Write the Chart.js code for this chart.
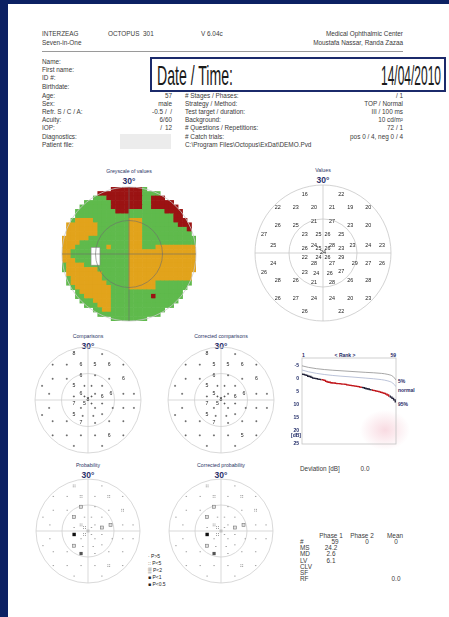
<!DOCTYPE html>
<html><head><meta charset="utf-8">
<script src="https://cdn.jsdelivr.net/npm/chart.js@4/dist/chart.umd.min.js"></script>
<style>
html,body{margin:0;padding:0;}
body{width:449px;height:617px;background:#0c2163;position:relative;overflow:hidden;font-family:"Liberation Sans",Arial,sans-serif;}
#page{position:absolute;left:8px;top:4px;width:441px;height:613px;background:#fff;}
.t{position:absolute;white-space:nowrap;font-size:6.4px;color:#3a3a3a;line-height:1;transform:translateY(-50%);}
.t.r{transform:translate(-100%,-50%);}
.t.c{transform:translate(-50%,-50%);}
.ttl{font-size:5.2px;color:#2b3566;}
.deg{font-size:8.5px;font-weight:bold;color:#28306a;}
canvas{position:absolute;}
#datebox{position:absolute;left:150px;top:57px;width:292px;height:31px;border:2px solid #1b2a6b;background:#fff;}
#smudge{position:absolute;left:360px;top:410px;width:50px;height:40px;background:radial-gradient(closest-side,rgba(236,150,170,0.35),rgba(236,150,170,0));}
</style></head>
<body>
<div id="page"></div>
<div id="smudge"></div>
<div style="position:absolute;left:42px;top:51px;width:361px;height:0;border-top:0.6px solid #9a9a9a"></div>
<div style="position:absolute;left:120px;top:134px;width:51px;height:15px;background:#ececec"></div>
<div id="datebox"></div>
<script>
// ---------- 59 test locations (degrees) ----------
const locX = [-8,8, -20,-12,-4,4,12,20, -4,4, -20,-12,12,20, -26,-8,-2,2,8, -22,-4,4,13,20,26, -8,-2,2,8, 0, -8,-2,2,8, -22,-4,4,14,20,26, -26,-8,-3,3,8, -20,-12,-4,4,12,20, -20,-12,-4,4,12,20, -8,8];
const locY = [26,26, 20,20,20,20,20,20, 14,14, 12,12,12,12, 8,8,8,8,8, 3.5,3.5,3.5,3.5,3.5,3.5, 2,2,2,2, 0, -2,-2,-2,-2, -4.5,-4.5,-4.5,-4.5,-4.5,-4.5, -8.5,-8.5,-9,-9,-8, -12,-12,-13,-13,-12,-12, -20,-20,-20,-20,-20,-20, -26,-26];

// measured sensitivities [dB]
const sensitivity = [16,22, 22,23,20,21,19,20, 21,27, 26,25,23,20, 27,23,25,26,25, 25,24,28,23,24,23, 26,25,26,23, 24, 22,24,26,29, 24,28,27,29,27,26, 26,23,24,26,27, 28,26,21,28,26,28, 26,27,24,24,20,23, 26,22];

// comparisons with age-normal values (0 = within normal, shown as +)
const comparisons = [8,0, 0,0,6,5,6,0, 6,0, 0,0,0,6, 0,5,0,0,0, 0,6,0,6,0,0, 0,0,0,6, 8, 7,5,0,0, 0,0,0,0,0,0, 0,5,0,0,0, 0,0,7,0,0,0, 0,0,0,0,6,0, 0,0];
const correctedComparisons = [8,0, 0,0,5,5,6,0, 6,0, 0,0,0,6, 0,5,0,0,0, 0,5,0,6,0,0, 0,0,0,6, 8, 7,5,0,0, 0,0,0,0,0,0, 0,5,0,0,0, 0,0,7,0,0,0, 0,0,0,0,5,0, 0,0];

// probability classes: 0 P>5, 1 P<5, 2 P<2, 3 P<1, 4 P<0.5
const probability = [1,0, 0,0,1,0,1,0, 2,0, 0,0,0,1, 0,2,0,0,0, 0,1,0,2,0,0, 0,1,0,2, 1, 4,1,0,0, 0,0,0,0,0,0, 0,2,0,0,0, 0,0,3,0,0,0, 0,0,0,0,1,0, 0,0];
const correctedProbability = [1,0, 0,0,1,0,1,0, 2,0, 0,0,0,1, 0,2,0,0,0, 0,1,0,2,0,0, 0,1,0,2, 1, 4,1,0,0, 0,0,0,0,0,0, 0,2,0,0,0, 0,0,3,0,0,0, 0,0,0,0,1,0, 0,0];

// greyscale map on a 2-degree grid (30 x 30 cells, row 0 at the top); runs are [row, firstCol, lastCol]
const greyRed = [[0,11,17],[1,8,17],[2,10,17],[2,20,23],[3,11,17],[3,20,24],[4,11,17],[4,20,25],[5,12,14],[5,23,26],[6,25,27],[7,25,27],[8,26,28],[9,28,28],[24,20,20]];
const greyOrange = [[7,3,6],[7,15,17],[8,1,7],[8,15,17],[9,1,7],[9,15,17],[10,0,7],[10,15,17],[11,0,5],[11,15,17],[12,0,3],[12,15,17],[13,0,2],[13,10,10],[13,15,17],[13,21,29],[14,0,1],[14,15,29],[15,0,1],[15,15,29],[16,0,2],[16,15,29],[17,1,4],[17,15,29],[18,1,7],[18,15,29],[19,1,8],[19,15,29],[20,2,8],[20,15,29],[21,2,9],[21,15,20],[22,3,10],[22,15,20],[23,4,10],[24,5,10],[25,7,10],[26,8,10],[27,9,10]];
const blindSpot = {x0:-17, x1:-13, y0:-5, y1:3};

// cumulative defect curve
const rankRefX = [1,5,10,20,30,40,50,54,57,59];
const rank5 = [-5.0,-4.4,-3.9,-3.3,-2.9,-2.5,-2.1,-1.7,-1.0,0.4];
const rankNormal = [-3.4,-2.7,-2.1,-1.3,-0.8,-0.3,0.3,0.8,1.6,3.0];
const patientDefect = [-1.8,-1.7,-1.5,-1.3,-1.0,-0.9,-0.6,-0.3,-0.2,-0.1,0.1,0.2,0.3,0.4,0.6,1.0,1.2,1.3,1.5,1.6,1.6,1.7,1.8,1.8,1.9,2.0,2.0,2.1,2.3,2.4,2.5,2.6,2.7,2.8,2.9,3.0,3.2,3.3,3.4,3.6,3.8,3.9,4.1,4.2,4.4,4.5,4.7,4.8,5.0,5.2,5.4,5.6,5.9,6.2,6.6,7.0,7.5,8.1,8.8];
const rankTicks = [-5,0,5,10,15,20,25];

// ---------- text ----------
const texts = [
  [42,34,'INTERZEAG'],[42,43,'Seven-in-One'],[108,34,'OCTOPUS&nbsp; 301'],[201,34,'V 6.04c'],
  [403,34,'Medical Ophthalmic Center','r'],[403,43,'Moustafa Nassar, Randa Zazaa','r'],
  [42,62,'Name:'],[42,70,'First name:'],[42,78,'ID #:'],[42,87,'Birthdate:'],[42,96,'Age:'],[42,104,'Sex:'],
  [42,112,'Refr. S / C / A:'],[42,120,'Acuity:'],[42,128,'IOP:'],[42,137,'Diagnostics:'],[42,145,'Patient file:'],
  [172,96,'57','r'],[172,104,'male','r'],[172,112,'-0.5 / &nbsp;/','r'],[172,120,'6/60','r'],[162,128,'/','r'],[172,128,'12','r'],
  [185,96,'# Stages / Phases:'],[185,104,'Strategy / Method:'],[185,112,'Test target / duration:'],[185,120,'Background:'],
  [185,128,'# Questions / Repetitions:'],[185,137,'# Catch trials:'],[185,145,'C:\\Program Files\\Octopus\\ExDat\\DEMO.Pvd'],
  [403,96,'/ 1','r'],[403,104,'TOP / Normal','r'],[403,112,'III / 100 ms','r'],[403,120,'10 cd/m²','r'],[403,128,'72 / 1','r'],[403,137,'pos 0 / 4, neg 0 / 4','r'],
  [300,469,'Deviation [dB]'],[365,469,'0.0','c'],
  [331,536,'Phase 1','c'],[362,536,'Phase 2','c'],[395,536,'Mean','c'],
  [300,542,'#'],[335,542,'59','c'],[367,542,'0','c'],[396,542,'0','c'],
  [300,548,'MS'],[331,548,'24.2','c'],[300,554,'MD'],[331,554,'2.6','c'],[300,561,'LV'],[331,561,'6.1','c'],
  [300,567,'CLV'],[300,573,'SF'],[300,579,'RF'],[396,579,'0.0','c']
];
const titles = [[129,172,'Greyscale of values'],[323,171,'Values'],[88,337,'Comparisons'],[221,337,'Corrected comparisons'],[88,466,'Probability'],[221,466,'Corrected probability']];
const legendItems = [['·','P>5'],['::','P<5'],['▒','P<2'],['■','P<1'],['■','P<0.5']];

function addText(x,y,html,cls,extra){
  const d=document.createElement('div');
  d.className='t'+(cls?' '+cls:'');
  d.style.left=x+'px'; d.style.top=y+'px';
  d.innerHTML=html;
  if(extra) Object.assign(d.style,extra);
  document.body.appendChild(d);
  return d;
}
texts.forEach(([x,y,s,a])=>addText(x,y,s,a));
titles.forEach(([x,y,s])=>{addText(x,y,s,'c ttl');addText(x,y+9,'30°','c deg');});
legendItems.forEach(([sym,lab],k)=>addText(148,556+k*7,sym+' '+lab,'',{fontSize:'5px',color:'#222'}));
addText(302,355,'1','',{fontSize:'5px',color:'#1f2a66',fontWeight:'bold'});
addText(345,355,'&lt; Rank &gt;','c',{fontSize:'5px',color:'#1f2a66',fontWeight:'bold'});
addText(396,355,'59','r',{fontSize:'5px',color:'#1f2a66',fontWeight:'bold'});
addText(398,381,'5%','',{fontSize:'5px',color:'#1f2a66',fontWeight:'bold'});
addText(398,390,'normal','',{fontSize:'5px',color:'#1f2a66',fontWeight:'bold'});
addText(398,404,'95%','',{fontSize:'5px',color:'#1f2a66',fontWeight:'bold'});

// large date line, condensed to fit its box
function fitText(x,y,w,s,align){
  const d=addText(x,y,s,'',{fontSize:'28px',color:'#1a1a1a',transformOrigin:align==='r'?'right center':'left center'});
  const sx=w/d.getBoundingClientRect().width;
  d.style.transform=(align==='r'?'translate(-100%,-50%) ':'translateY(-50%) ')+'scaleX('+sx+')';
}
fitText(157,76,76,'Date / Time:');
fitText(441,76,60,'14/04/2010','r');

// ---------- helpers ----------
function mkCanvas(left,top,w,h){
  const c=document.createElement('canvas');
  c.width=w;c.height=h;c.style.left=left+'px';c.style.top=top+'px';
  document.body.appendChild(c);return c;
}
const fieldScales={x:{type:'linear',min:-30,max:30,display:false},y:{type:'linear',min:-30,max:30,display:false}};
function guides(opts){
  const hook=opts.onTop?'afterDatasetsDraw':'beforeDatasetsDraw';
  return {id:'guides',[hook](chart){
    const {ctx,scales:{x,y}}=chart;
    const cx=x.getPixelForValue(0),cy=y.getPixelForValue(0);
    const R=x.getPixelForValue(30)-cx,r=x.getPixelForValue(15)-cx;
    ctx.save();
    ctx.strokeStyle=opts.outer;ctx.lineWidth=0.8;
    ctx.beginPath();ctx.arc(cx,cy,R,0,Math.PI*2);ctx.stroke();
    ctx.strokeStyle=opts.inner;ctx.lineWidth=opts.innerWidth||0.8;
    ctx.beginPath();ctx.arc(cx,cy,r,0,Math.PI*2);ctx.stroke();
    ctx.beginPath();ctx.moveTo(cx-R,cy);ctx.lineTo(cx+R,cy);ctx.moveTo(cx,cy-R);ctx.lineTo(cx,cy+R);ctx.stroke();
    ctx.restore();
  }};
}
const marksPlugin={id:'marks',afterDatasetsDraw(chart){
  const ctx=chart.ctx;
  chart.data.datasets.forEach((ds,di)=>{
    if(!ds.marks)return;
    const meta=chart.getDatasetMeta(di);
    ctx.save();
    meta.data.forEach((el,k)=>ds.drawMark(ctx,el.x,el.y,ds.marks[k]));
    ctx.restore();
  });
}};
function fieldChart(cx,cy,R,dataset,plugins){
  const c=mkCanvas(cx-R-1,cy-R-1,2*R+2,2*R+2);
  return new Chart(c,{type:'scatter',data:{datasets:[dataset]},
    options:{responsive:false,animation:false,events:[],layout:{padding:1},scales:fieldScales,
      plugins:{legend:{display:false},tooltip:{enabled:false}}},
    plugins:plugins});
}
const locPoints=locX.map((x,i)=>({x,y:locY[i]}));

// ---------- greyscale ----------
const toneColor={g:'#5fba4c',o:'#e2a31b',r:'#9b1313'};
const grid=[];for(let j=0;j<30;j++)grid.push(new Array(30).fill('g'));
greyOrange.forEach(([j,a,b])=>{for(let i=a;i<=b;i++)grid[j][i]='o';});
greyRed.forEach(([j,a,b])=>{for(let i=a;i<=b;i++)grid[j][i]='r';});
const cells=[],cellColors=[];
for(let j=0;j<30;j++)for(let i=0;i<30;i++){
  const x=-29+2*i,y=29-2*j;
  if(Math.hypot(x,y)<=30){cells.push({x,y});cellColors.push(toneColor[grid[j][i]]);}
}
const blindPlugin={id:'blind',afterDatasetsDraw(chart){
  const {ctx,scales:{x,y}}=chart;
  const l=x.getPixelForValue(blindSpot.x0),r=x.getPixelForValue(blindSpot.x1),t=y.getPixelForValue(blindSpot.y1),b=y.getPixelForValue(blindSpot.y0);
  ctx.save();ctx.fillStyle='#fff';ctx.fillRect(l,t,r-l,b-t);ctx.strokeStyle='#888';ctx.lineWidth=0.6;ctx.strokeRect(l,t,r-l,b-t);ctx.restore();
}};
fieldChart(129,254,67,{data:cells,pointStyle:'rect',pointBorderWidth:0,pointBackgroundColor:cellColors,
  pointRadius:(ctx)=>{const s=ctx.chart.scales.x;const cell=Math.abs(s.getPixelForValue(2)-s.getPixelForValue(0));return (cell/2+0.3)/Math.SQRT1_2;}},
  [blindPlugin,guides({onTop:true,outer:'#c9c9c9',inner:'#6d6d6d',innerWidth:0.6})]);

// ---------- values ----------
fieldChart(323,253,68,{data:locPoints,pointRadius:0,marks:sensitivity,
  drawMark(ctx,x,y,v){ctx.font='5.4px "Liberation Sans",Arial';ctx.fillStyle='#222';ctx.textAlign='center';ctx.textBaseline='middle';ctx.fillText(String(v),x,y);}},
  [guides({outer:'#c8c8c8',inner:'#c8c8c8'}),marksPlugin]);

// ---------- comparisons ----------
function drawComparison(ctx,x,y,v){
  if(v===0){ctx.strokeStyle='#333';ctx.lineWidth=0.6;ctx.beginPath();ctx.moveTo(x-1,y);ctx.lineTo(x+1,y);ctx.moveTo(x,y-1);ctx.lineTo(x,y+1);ctx.stroke();}
  else{ctx.font='5.2px "Liberation Sans",Arial';ctx.fillStyle='#222';ctx.textAlign='center';ctx.textBaseline='middle';ctx.fillText(String(v),x,y);}
}
fieldChart(88,400,53,{data:locPoints,pointRadius:0,marks:comparisons,drawMark:drawComparison},[guides({outer:'#cfcfcf',inner:'#cfcfcf'}),marksPlugin]);
fieldChart(221,400,53,{data:locPoints,pointRadius:0,marks:correctedComparisons,drawMark:drawComparison},[guides({outer:'#cfcfcf',inner:'#cfcfcf'}),marksPlugin]);

// ---------- probability ----------
function drawProb(ctx,x,y,v){
  if(v===0){ctx.fillStyle='#8a8a8a';ctx.fillRect(x-0.7,y-0.4,1.4,0.8);}
  else if(v===1){ctx.fillStyle='#666';[[-0.9,-0.9],[0.9,-0.9],[-0.9,0.9],[0.9,0.9]].forEach(([a,b])=>ctx.fillRect(x+a-0.4,y+b-0.4,0.8,0.8));}
  else if(v===2){ctx.fillStyle='#e0e0e0';ctx.fillRect(x-1.5,y-1.5,3,3);ctx.strokeStyle='#777';ctx.lineWidth=0.6;ctx.strokeRect(x-1.5,y-1.5,3,3);}
  else if(v===3){ctx.fillStyle='#555';ctx.fillRect(x-1.6,y-1.6,3.2,3.2);}
  else{ctx.fillStyle='#111';ctx.fillRect(x-1.7,y-1.7,3.4,3.4);}
}
fieldChart(88,531,52,{data:locPoints,pointRadius:0,marks:probability,drawMark:drawProb},[guides({outer:'#cfcfcf',inner:'#cfcfcf'}),marksPlugin]);
fieldChart(221,531,52,{data:locPoints,pointRadius:0,marks:correctedProbability,drawMark:drawProb},[guides({outer:'#cfcfcf',inner:'#cfcfcf'}),marksPlugin]);

// ---------- cumulative defect curve ----------
const darkRanks=[[1,13],[38,44],[55,59]];
const rankFrame={id:'rankFrame',
  beforeDatasetsDraw(chart){
    const {ctx,chartArea:a}=chart;
    ctx.save();ctx.strokeStyle='#c4c4c4';ctx.lineWidth=0.8;ctx.strokeRect(a.left,a.top,a.right-a.left,a.bottom-a.top);ctx.restore();
  },
  afterDraw(chart){
    const {ctx,chartArea:a,scales:{y}}=chart;
    ctx.save();ctx.font='bold 5px "Liberation Sans",Arial';ctx.fillStyle='#1f2a66';ctx.textAlign='right';ctx.textBaseline='middle';
    rankTicks.forEach(v=>ctx.fillText(String(v),a.left-3,y.getPixelForValue(v)));
    ctx.fillText('[dB]',a.left-1,y.getPixelForValue(21.6));
    ctx.restore();
  }};
new Chart(mkCanvas(284,348,116,100),{type:'line',
  data:{datasets:[
    {data:rankRefX.map((x,i)=>({x,y:rank5[i]})),borderColor:'#8f8f8f',borderWidth:0.8,pointRadius:0,cubicInterpolationMode:'monotone'},
    {data:rankRefX.map((x,i)=>({x,y:rankNormal[i]})),borderColor:'#aab4cf',borderWidth:0.8,pointRadius:0,cubicInterpolationMode:'monotone'},
    {data:patientDefect.map((v,i)=>({x:i+1,y:v})),borderColor:'#c1161b',borderWidth:1.3,pointRadius:0,stepped:'middle',
      segment:{borderColor:(c)=>darkRanks.some(([a,b])=>c.p0.parsed.x>=a&&c.p1.parsed.x<=b)?'#23233a':'#c1161b'}}
  ]},
  options:{responsive:false,animation:false,events:[],layout:{padding:{left:18,top:10,right:4,bottom:4}},
    scales:{x:{type:'linear',min:1,max:59,display:false},y:{type:'linear',min:-8,max:25,reverse:true,display:false}},
    plugins:{legend:{display:false},tooltip:{enabled:false}}},
  plugins:[rankFrame]});
</script>
</body></html>
